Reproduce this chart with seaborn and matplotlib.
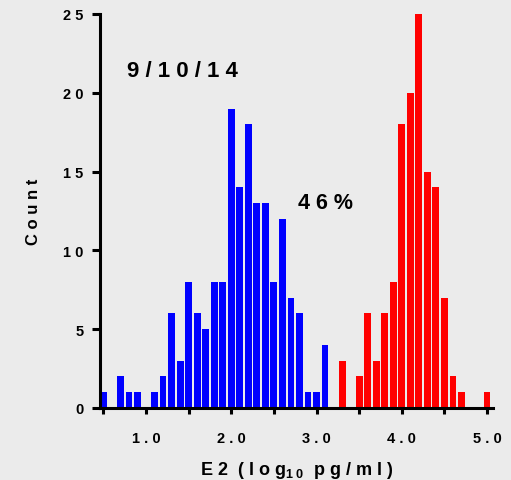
import numpy as np
import pandas as pd
import matplotlib
matplotlib.use("Agg")
import matplotlib.pyplot as plt
import seaborn as sns

# histogram data (bin centres in log10 pg/ml, counts)
blue_bins = [0.5, 0.6, 0.7, 0.8, 0.9, 1.0, 1.1, 1.2, 1.3, 1.4, 1.5, 1.6, 1.7, 1.8, 1.9,
             2.0, 2.1, 2.2, 2.3, 2.4, 2.5, 2.6, 2.7, 2.8, 2.9, 3.0, 3.1]
blue_counts = [1, 0, 2, 1, 1, 0, 1, 2, 6, 3, 8, 6, 5, 8, 8,
               19, 14, 18, 13, 13, 8, 12, 7, 6, 1, 1, 4]
red_bins = [3.2, 3.3, 3.4, 3.5, 3.6, 3.7, 3.8, 3.9, 4.0, 4.1, 4.2, 4.3, 4.4,
            4.5, 4.6, 4.7, 4.8, 4.9, 5.0]
red_counts = [0, 3, 0, 2, 6, 3, 6, 8, 18, 20, 25, 15, 14,
              7, 2, 1, 0, 0, 1]

y_ticks = [0, 5, 10, 15, 20, 25]
y_ticklabels = ["0", "5", "1 0", "1 5", "2 0", "2 5"]
x_ticks = [0.5, 1.0, 1.5, 2.0, 2.5, 3.0, 3.5, 4.0, 4.5, 5.0]
x_ticklabels = ["", "1 . 0", "", "2 . 0", "", "3 . 0", "", "4 . 0", "", "5 . 0"]

df = pd.concat([
    pd.DataFrame({"bin": blue_bins, "count": blue_counts, "grp": "low"}),
    pd.DataFrame({"bin": red_bins, "count": red_counts, "grp": "high"}),
])
df["bin"] = df["bin"].round(2)

sns.set_style("white")
plt.rcParams["font.family"] = ["Liberation Sans", "DejaVu Sans"]
plt.rcParams["text.color"] = "black"
plt.rcParams["axes.labelcolor"] = "black"
plt.rcParams["xtick.color"] = "black"
plt.rcParams["ytick.color"] = "black"
plt.rcParams["mathtext.fontset"] = "custom"
plt.rcParams["mathtext.rm"] = "Liberation Sans:bold"
plt.rcParams["mathtext.it"] = "Liberation Sans:bold"
plt.rcParams["mathtext.bf"] = "Liberation Sans:bold"

bg = "#EBEBEB"
fig = plt.figure(figsize=(5.11, 4.81), dpi=100, facecolor=bg)
ax = fig.add_axes([100 / 511, 1 - 409 / 481, 393 / 511, 394 / 481])
ax.set_facecolor(bg)

sns.barplot(data=df, x="bin", y="count", hue="grp", native_scale=True,
            dodge=False, width=0.8, palette={"low": "#0000FF", "high": "#FF0000"},
            saturation=1, linewidth=0, legend=False, ax=ax)

ax.set_xlim(0.46, 5.07)
ax.set_ylim(0, 25)
ax.set_yticks(y_ticks)
ax.set_yticklabels(y_ticklabels, fontsize=10.5, fontweight="bold")
ax.set_xticks(x_ticks)
ax.set_xticklabels(x_ticklabels, fontsize=10.5, fontweight="bold")

for side in ["top", "right"]:
    ax.spines[side].set_visible(False)
for side in ["left", "bottom"]:
    ax.spines[side].set_linewidth(2.2)
    ax.spines[side].set_color("black")
ax.tick_params(axis="y", direction="out", length=6, width=2.2, pad=6, left=True)
ax.tick_params(axis="x", direction="out", length=4.5, width=2.2, pad=12, bottom=True)

ax.set_ylabel("C o u n t", fontsize=12, fontweight="bold", labelpad=16)
ax.set_xlabel(r"E 2  ( l o g$_{\mathrm{1\ 0}}$  p g / m l )", fontsize=13,
              fontweight="bold", labelpad=10)

ax.text(0.777, 21.4, "9 / 1 0 / 1 4", fontsize=16, fontweight="bold", va="center", ha="left")
ax.text(2.78, 13.07, "4 6 %", fontsize=15.5, fontweight="bold", va="center", ha="left")

fig.savefig("out.png", dpi=100, facecolor=bg)
